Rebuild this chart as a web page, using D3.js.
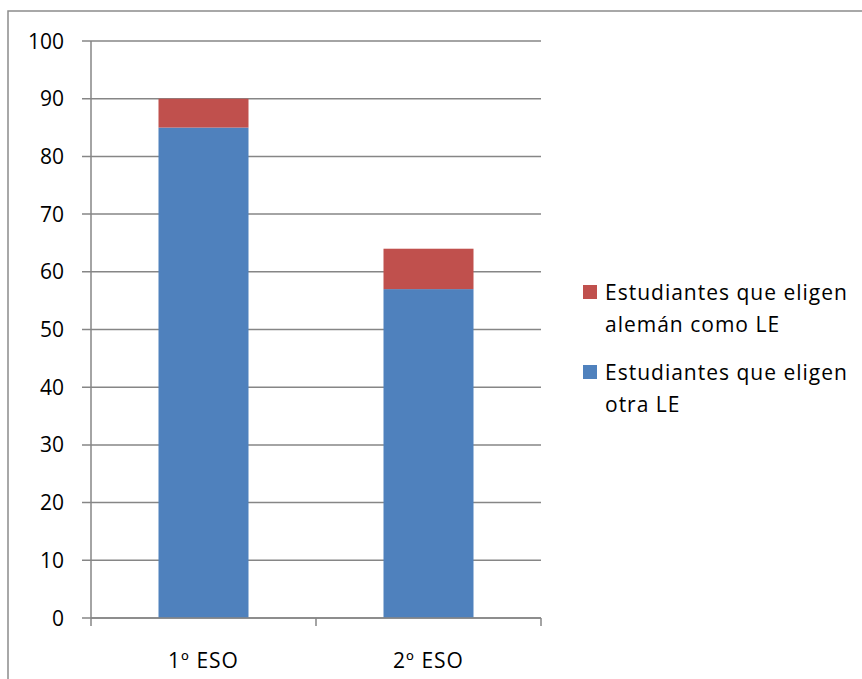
<!DOCTYPE html>
<html>
<head>
<meta charset="utf-8">
<script src="https://cdn.jsdelivr.net/npm/d3@7"></script>
<style>
  html, body { margin: 0; padding: 0; background: #fff; }
  svg { display: block; }
  text { font-family: "Open Sans", "Noto Sans", sans-serif; fill: #000; }
</style>
</head>
<body>
<svg id="chart" width="862" height="679"></svg>
<script>
// Stacked bars: students per course, split by chosen foreign language
const categories = ["1º ESO", "2º ESO"];
const otherLE = [85, 57];     // Estudiantes que eligen otra LE
const germanLE = [5, 7];      // Estudiantes que eligen alemán como LE
const yTicks = [0, 10, 20, 30, 40, 50, 60, 70, 80, 90, 100];
const legendLines = [
  ["Estudiantes que eligen", "alemán como LE"],
  ["Estudiantes que eligen", "otra LE"]
];
const colors = { other: "#4F81BD", german: "#C0504D" };

const svg = d3.select("#chart");
const plot = { left: 91, right: 541, top: 41, bottom: 618 };
const gridColor = "#868686";
const fontSize = 21;

// Outer chart frame (runs past the right and bottom page edges)
svg.append("rect")
  .attr("x", 8).attr("y", 11)
  .attr("width", 900).attr("height", 700)
  .attr("fill", "none").attr("stroke", "#8c8c8c").attr("stroke-width", 1.5);

const x = d3.scaleBand().domain(categories).range([plot.left, plot.right]).paddingInner(0.6).paddingOuter(0.3);
const y = d3.scaleLinear().domain([0, 100]).range([plot.bottom, plot.top]);

// Horizontal gridlines with short left ticks
svg.append("g").selectAll("line").data(yTicks).join("line")
  .attr("x1", plot.left - 9).attr("x2", plot.right)
  .attr("y1", d => y(d)).attr("y2", d => y(d))
  .attr("stroke", gridColor).attr("stroke-width", 1.5);

// Y axis line
svg.append("line")
  .attr("x1", plot.left).attr("x2", plot.left)
  .attr("y1", plot.top).attr("y2", plot.bottom)
  .attr("stroke", gridColor).attr("stroke-width", 1.5);

// Y tick labels
svg.append("g").selectAll("text").data(yTicks).join("text")
  .attr("x", 64).attr("y", d => y(d)).attr("dy", "0.36em")
  .attr("text-anchor", "end").attr("font-size", fontSize)
  .text(d => d);

// Stacked data
const rows = categories.map((c, i) => ({ cat: c, other: otherLE[i], german: germanLE[i] }));
const stacked = d3.stack().keys(["other", "german"])(rows);

svg.append("g").selectAll("g").data(stacked).join("g")
  .attr("fill", d => colors[d.key])
  .selectAll("rect").data(d => d).join("rect")
  .attr("x", d => x(d.data.cat))
  .attr("width", x.bandwidth())
  .attr("y", d => y(d[1]))
  .attr("height", d => y(d[0]) - y(d[1]));

// X axis baseline and category boundary ticks
svg.append("line")
  .attr("x1", plot.left).attr("x2", plot.right)
  .attr("y1", plot.bottom).attr("y2", plot.bottom)
  .attr("stroke", gridColor).attr("stroke-width", 1.5);
const step = x.step();
const tickXs = d3.range(categories.length + 1).map(i => plot.left + i * step);
svg.append("g").selectAll("line").data(tickXs).join("line")
  .attr("x1", d => d).attr("x2", d => d)
  .attr("y1", plot.bottom).attr("y2", plot.bottom + 8)
  .attr("stroke", gridColor).attr("stroke-width", 1.5);

svg.append("g").selectAll("text").data(categories).join("text")
  .attr("x", d => x(d) + x.bandwidth() / 2).attr("y", 668)
  .attr("text-anchor", "middle").attr("font-size", fontSize)
  .attr("letter-spacing", 1)
  .text(d => d);

// Legend
const legendKeys = ["german", "other"];
const legendTop = [285, 365];
const lg = svg.append("g");
legendKeys.forEach((k, i) => {
  lg.append("rect")
    .attr("x", 583).attr("y", legendTop[i])
    .attr("width", 14).attr("height", 14)
    .attr("fill", colors[k]);
  legendLines[i].forEach((line, j) => {
    lg.append("text")
      .attr("x", 605).attr("y", legendTop[i] + 15 + j * 32)
      .attr("font-size", fontSize)
      .attr("letter-spacing", 1)
      .text(line);
  });
});
</script>
</body>
</html>
